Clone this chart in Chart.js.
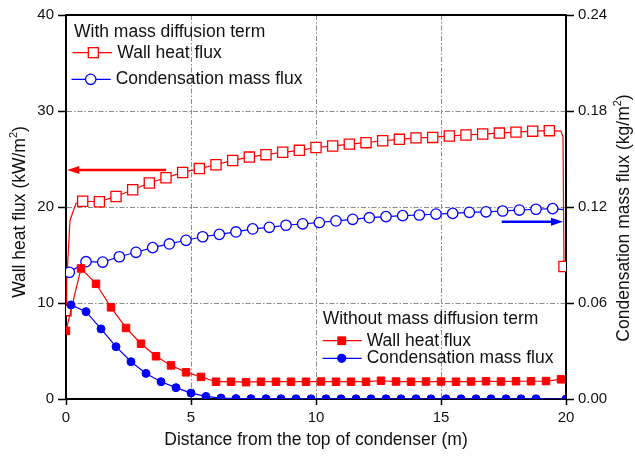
<!DOCTYPE html>
<html><head><meta charset="utf-8">
<script src="https://cdn.jsdelivr.net/npm/chart.js@4/dist/chart.umd.min.js"></script>
<style>html,body{margin:0;padding:0;background:#fff}canvas{display:block}</style>
</head><body>
<canvas id="c" width="635" height="458"></canvas>
<script>
// ---- data ----
const xTicks = [0, 5, 10, 15, 20];
const leftTicks = [0, 10, 20, 30, 40];
const rightTicks = [0, 0.06, 0.12, 0.18, 0.24];

// With mass diffusion term – wall heat flux (kW/m2)
const withHeatX = [0, 0.03, 0.16, 0.4, 0.667, 1.333, 2.0, 2.667, 3.333, 4.0, 4.667, 5.333, 6.0, 6.667, 7.333, 8.0, 8.667, 9.333, 10.0, 10.667, 11.333, 12.0, 12.667, 13.333, 14.0, 14.667, 15.333, 16.0, 16.667, 17.333, 18.0, 18.667, 19.333, 19.8, 19.88, 19.92];
const withHeatY = [9.2, 12.4, 18.6, 20.4, 20.6, 20.55, 21.1, 21.8, 22.5, 23.05, 23.6, 24.0, 24.4, 24.85, 25.2, 25.45, 25.7, 25.9, 26.2, 26.35, 26.55, 26.7, 26.9, 27.05, 27.2, 27.25, 27.4, 27.5, 27.6, 27.7, 27.8, 27.9, 27.95, 27.9, 27.3, 13.8];
const withHeatUnmarkedX = [0.03, 0.16, 0.4, 19.8, 19.88];

// With mass diffusion term – condensation mass flux (kg/m2)
const withMassX = [0.133, 0.8, 1.467, 2.133, 2.8, 3.467, 4.133, 4.8, 5.467, 6.133, 6.8, 7.467, 8.133, 8.8, 9.467, 10.133, 10.8, 11.467, 12.133, 12.8, 13.467, 14.133, 14.8, 15.467, 16.133, 16.8, 17.467, 18.133, 18.8, 19.467, 19.9];
const withMassY = [0.0792, 0.0858, 0.0856, 0.0889, 0.0917, 0.0946, 0.0969, 0.0992, 0.1014, 0.1029, 0.1044, 0.1063, 0.1073, 0.1086, 0.1095, 0.1103, 0.1113, 0.1123, 0.1133, 0.114, 0.1146, 0.115, 0.1156, 0.116, 0.1167, 0.117, 0.1175, 0.1181, 0.1186, 0.119, 0.1183];
const withMassUnmarkedX = [19.9];

// Without mass diffusion term – wall heat flux (kW/m2)
const withoutHeatX = [0, 0.6, 1.2, 1.8, 2.4, 3.0, 3.6, 4.2, 4.8, 5.4, 6.0, 6.6, 7.2, 7.8, 8.4, 9.0, 9.6, 10.2, 10.8, 11.4, 12.0, 12.6, 13.2, 13.8, 14.4, 15.0, 15.6, 16.2, 16.8, 17.4, 18.0, 18.6, 19.2, 19.8];
const withoutHeatY = [7.1, 13.6, 12.0, 9.55, 7.4, 5.76, 4.45, 3.5, 2.78, 2.3, 1.8, 1.8, 1.75, 1.8, 1.8, 1.8, 1.8, 1.82, 1.8, 1.8, 1.8, 1.9, 1.82, 1.8, 1.82, 1.82, 1.8, 1.82, 1.85, 1.82, 1.85, 1.85, 1.87, 2.05];

// Without mass diffusion term – condensation mass flux (kg/m2)
const withoutMassX = [0.2, 0.8, 1.4, 2.0, 2.6, 3.2, 3.8, 4.4, 5.0, 5.6, 6.2, 6.8, 7.4, 8.0, 8.6, 9.2, 9.8, 10.4, 11.0, 11.6, 12.2, 12.8, 13.4, 14.0, 14.6, 15.2, 15.8, 16.4, 17.0, 17.6, 18.2, 18.8, 20.0];
const withoutMassY = [0.0588, 0.0546, 0.0438, 0.0327, 0.0233, 0.016, 0.0108, 0.0071, 0.0037, 0.0016, 0.0006, 0.0003, 0.0002, 0.0002, 0.0002, 0.0001, 0.0001, 0.0001, 0.0001, 0.0001, 0.0001, 0.0001, 0.0001, 0.0001, 0.0001, 0.0001, 0.0001, 0.0001, 0.0001, 0.0001, 0.0001, 0.0001, 0.0];

// arrows: [xStart, xEnd, value] (data units)
const heatArrow = [4.0, 0.05, 23.85];   // left axis
const massArrow = [17.43, 19.88, 0.1108]; // right axis

// ---- chart ----
const RED = '#ff0000', BLUE = '#0000ff';
const FONT = "'Liberation Sans', Arial, sans-serif";
const zip = (xs, ys) => xs.map((x, i) => ({x, y: ys[i]}));
const radiusFn = (unmarked, r) => ctx => (ctx.raw && unmarked.includes(ctx.raw.x)) ? 0 : r;

const frameAndNotes = {
  id: 'frameAndNotes',
  beforeDatasetsDraw(chart) {
    const {ctx, chartArea: a} = chart;
    ctx.save();
    ctx.strokeStyle = '#000'; ctx.lineWidth = 2;
    ctx.beginPath(); ctx.moveTo(a.left - 1, a.top); ctx.lineTo(a.right + 1, a.top); ctx.stroke();
    ctx.restore();
  },
  afterDraw(chart) {
    const {ctx} = chart;
    const xs = chart.scales.x, yl = chart.scales.y, yr = chart.scales.y1;
    // arrows
    const arrow = (x1, x2, y, color) => {
      ctx.save();
      ctx.strokeStyle = color; ctx.fillStyle = color; ctx.lineWidth = 2.5;
      const dir = Math.sign(x2 - x1);
      ctx.beginPath(); ctx.moveTo(x1, y); ctx.lineTo(x2 - dir * 9, y); ctx.stroke();
      ctx.beginPath(); ctx.moveTo(x2, y); ctx.lineTo(x2 - dir * 12, y - 4); ctx.lineTo(x2 - dir * 12, y + 4); ctx.closePath(); ctx.fill();
      ctx.restore();
    };
    arrow(xs.getPixelForValue(heatArrow[0]), xs.getPixelForValue(heatArrow[1]), yl.getPixelForValue(heatArrow[2]), RED);
    arrow(xs.getPixelForValue(massArrow[0]), xs.getPixelForValue(massArrow[1]), yr.getPixelForValue(massArrow[2]), BLUE);

    // legends
    const LF = '17.5px ' + FONT;
    const text = (s, x, y) => { ctx.save(); ctx.font = LF; ctx.fillStyle = '#111'; ctx.textBaseline = 'middle'; ctx.textAlign = 'left'; ctx.fillText(s, x, y); ctx.restore(); };
    const line = (x1, x2, y, c) => { ctx.save(); ctx.strokeStyle = c; ctx.lineWidth = 1.2; ctx.beginPath(); ctx.moveTo(x1, y); ctx.lineTo(x2, y); ctx.stroke(); ctx.restore(); };
    const sq = (x, y, s, c, filled) => { ctx.save(); ctx.strokeStyle = c; ctx.lineWidth = 1.3; ctx.fillStyle = filled ? c : '#fff'; ctx.fillRect(x - s/2, y - s/2, s, s); ctx.strokeRect(x - s/2, y - s/2, s, s); ctx.restore(); };
    const circ = (x, y, r, c, filled) => { ctx.save(); ctx.strokeStyle = c; ctx.lineWidth = 1.3; ctx.fillStyle = filled ? c : '#fff'; ctx.beginPath(); ctx.arc(x, y, r, 0, Math.PI*2); ctx.fill(); ctx.stroke(); ctx.restore(); };

    text('With mass diffusion term', 74, 32);
    line(72.5, 112, 52.7, RED); sq(93.3, 52.7, 10, RED, false); text('Wall heat flux', 117.3, 53);
    line(71.5, 110.7, 79.3, BLUE); circ(90.7, 79.3, 5.2, BLUE, false); text('Condensation mass flux', 115.7, 79.5);

    text('Without mass diffusion term', 322.7, 319.5);
    line(322.7, 361.7, 340.7, RED); sq(341.7, 340.7, 7.5, RED, true); text('Wall heat flux', 366.7, 341);
    line(322.7, 361.7, 358.3, BLUE); circ(341.7, 358.3, 4, BLUE, true); text('Condensation mass flux', 366.7, 358.5);

    // axis titles
    const rich = (parts, cx, cy, rot) => {
      ctx.save();
      ctx.translate(cx, cy); ctx.rotate(rot);
      ctx.fillStyle = '#111'; ctx.textBaseline = 'middle'; ctx.textAlign = 'left';
      const big = '17.5px ' + FONT, small = '11px ' + FONT;
      let w = 0;
      parts.forEach(p => { ctx.font = p.sup ? small : big; w += ctx.measureText(p.t).width; });
      let x = -w / 2;
      parts.forEach(p => { ctx.font = p.sup ? small : big; ctx.fillText(p.t, x, p.sup ? -6 : 0); x += ctx.measureText(p.t).width; });
      ctx.restore();
    };
    rich([{t: 'Distance from the top of condenser (m)'}], 316, 440, 0);
    rich([{t: 'Wall heat flux (kW/m'}, {t: '2', sup: true}, {t: ')'}], 20, 212, -Math.PI / 2);
    rich([{t: 'Condensation mass flux (kg/m'}, {t: '2', sup: true}, {t: ')'}], 624, 218, -Math.PI / 2);
  }
};

const gridColor = (ctx) => (ctx.tick && (ctx.index === 0 || ctx.index === 4)) ? 'rgba(0,0,0,0)' : '#8a8a8a';

new Chart(document.getElementById('c'), {
  type: 'scatter',
  data: {
    datasets: [
      { label: 'Without – Condensation mass flux', yAxisID: 'y1', data: zip(withoutMassX, withoutMassY), showLine: true,
        borderColor: BLUE, borderWidth: 1.2, pointStyle: 'circle', pointRadius: 4, pointBackgroundColor: BLUE, pointBorderColor: BLUE, pointBorderWidth: 1 },
      { label: 'Without – Wall heat flux', yAxisID: 'y', data: zip(withoutHeatX, withoutHeatY), showLine: true,
        borderColor: RED, borderWidth: 1.2, pointStyle: 'rect', pointRadius: 5.3, pointBackgroundColor: RED, pointBorderColor: RED, pointBorderWidth: 1 },
      { label: 'With – Condensation mass flux', yAxisID: 'y1', data: zip(withMassX, withMassY), showLine: true,
        borderColor: BLUE, borderWidth: 1.2, pointStyle: 'circle', pointRadius: radiusFn(withMassUnmarkedX, 5.2), pointBackgroundColor: '#fff', pointBorderColor: BLUE, pointBorderWidth: 1.3 },
      { label: 'With – Wall heat flux', yAxisID: 'y', data: zip(withHeatX, withHeatY), showLine: true,
        borderColor: RED, borderWidth: 1.2, pointStyle: 'rect', pointRadius: radiusFn(withHeatUnmarkedX, 7.2), pointBackgroundColor: '#fff', pointBorderColor: RED, pointBorderWidth: 1.3 }
    ]
  },
  options: {
    responsive: false, animation: false, devicePixelRatio: 1,
    layout: { padding: { top: 15, left: 0, right: 0, bottom: 0 } },
    plugins: { legend: { display: false }, tooltip: { enabled: false } },
    elements: { line: { tension: 0 } },
    scales: {
      x: {
        type: 'linear', min: 0, max: 20,
        afterBuildTicks: s => { s.ticks = xTicks.map(v => ({value: v})); },
        afterFit: s => { s.height = 59; },
        ticks: { color: '#111', font: { family: FONT, size: 15 }, padding: 4, maxRotation: 0, callback: v => String(v) },
        grid: { color: gridColor, lineWidth: 1, tickLength: 6, tickColor: '#000', tickWidth: 1.5 },
        border: { color: '#000', width: 2, dash: [5, 2, 1.5, 2] }
      },
      y: {
        type: 'linear', position: 'left', min: 0, max: 40,
        afterBuildTicks: s => { s.ticks = leftTicks.map(v => ({value: v})); },
        afterFit: s => { s.width = 66; },
        ticks: { color: '#111', font: { family: FONT, size: 15 }, padding: 4, callback: v => String(v) },
        grid: { color: gridColor, lineWidth: 1, tickLength: 8, tickColor: '#000', tickWidth: 1.5 },
        border: { color: '#000', width: 2, dash: [5, 2, 1.5, 2] }
      },
      y1: {
        type: 'linear', position: 'right', min: 0, max: 0.24,
        afterBuildTicks: s => { s.ticks = rightTicks.map(v => ({value: v})); },
        afterFit: s => { s.width = 69; },
        ticks: { color: '#111', font: { family: FONT, size: 15 }, padding: 4, callback: v => v.toFixed(2) },
        grid: { drawOnChartArea: false, tickLength: 8, tickColor: '#000', tickWidth: 1.5 },
        border: { color: '#000', width: 2 }
      }
    }
  },
  plugins: [frameAndNotes]
});
</script>
</body></html>
